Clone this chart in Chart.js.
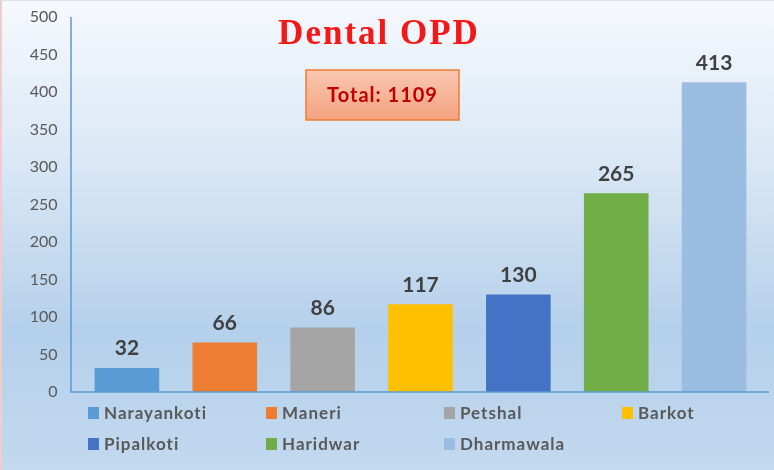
<!DOCTYPE html>
<html>
<head>
<meta charset="utf-8">
<script src="https://cdn.jsdelivr.net/npm/chart.js@4.4.1/dist/chart.umd.min.js"></script>
<style>
  html, body { margin: 0; padding: 0; background: #ffffff; }
  #wrap { position: relative; width: 774px; height: 470px; }
</style>
</head>
<body>
<div id="wrap"><canvas id="chart"></canvas></div>
<script>
const categories = ['Narayankoti', 'Maneri', 'Petshal', 'Barkot', 'Pipalkoti', 'Haridwar', 'Dharmawala'];
const opdCounts = [32, 66, 86, 117, 130, 265, 413];
const barColors = ['#5b9bd5', '#ed7d31', '#a5a5a5', '#ffc000', '#4472c4', '#70ad47', '#9bbde2'];
const yAxisMin = 0;
const yAxisMax = 500;
const yAxisStep = 50;
const chartTitle = 'Dental OPD';
const totalText = 'Total: ' + opdCounts.reduce((a, b) => a + b, 0);

const backgroundPlugin = {
  id: 'bg',
  beforeDraw(chart) {
    const ctx = chart.ctx, w = chart.width, h = chart.height;
    ctx.save();
    const g = ctx.createLinearGradient(0, 0, 0, h);
    g.addColorStop(0, '#f6f9fd');
    g.addColorStop(0.35, '#d9e7f5');
    g.addColorStop(0.7, '#b5d0eb');
    g.addColorStop(1, '#c2d9ef');
    ctx.fillStyle = g;
    ctx.fillRect(0, 0, w, h);
    ctx.fillStyle = '#f0cccc';
    ctx.fillRect(0, 0, 2, h);
    ctx.fillStyle = '#dfe3e8';
    ctx.fillRect(0, 0, w, 1);
    ctx.restore();
  }
};

const axisLinePlugin = {
  id: 'axisLines',
  afterDatasetsDraw(chart) {
    const ctx = chart.ctx, a = chart.chartArea;
    ctx.save();
    ctx.strokeStyle = '#5b9bd5';
    ctx.lineWidth = 1.5;
    ctx.beginPath();
    ctx.moveTo(a.left - 7, a.top);
    ctx.lineTo(a.left - 7, a.bottom);
    ctx.lineTo(a.right + 6, a.bottom);
    ctx.stroke();
    ctx.restore();
  }
};

const valueLabelPlugin = {
  id: 'valueLabels',
  afterDatasetsDraw(chart) {
    const ctx = chart.ctx;
    const meta = chart.getDatasetMeta(0);
    ctx.save();
    ctx.font = 'bold 21px Lato';
    ctx.fillStyle = '#404040';
    ctx.textAlign = 'center';
    ctx.textBaseline = 'bottom';
    meta.data.forEach((bar, i) => {
      ctx.fillText(String(opdCounts[i]), bar.x, bar.y - 9);
    });
    ctx.restore();
  }
};

const annotationPlugin = {
  id: 'annotations',
  afterDraw(chart) {
    const ctx = chart.ctx;
    ctx.save();
    // Title
    ctx.font = 'bold 35px "Liberation Serif"';
    ctx.letterSpacing = '2px';
    ctx.fillStyle = '#f41818';
    ctx.textAlign = 'center';
    ctx.textBaseline = 'alphabetic';
    ctx.fillText(chartTitle, 379, 44);
    // Total box
    const bx = 306, by = 70, bw = 153, bh = 50;
    const g = ctx.createLinearGradient(0, by, 0, by + bh);
    g.addColorStop(0, '#f9c8b1');
    g.addColorStop(1, '#f4a27f');
    ctx.fillStyle = g;
    ctx.fillRect(bx, by, bw, bh);
    ctx.strokeStyle = '#ed7d31';
    ctx.lineWidth = 1.5;
    ctx.strokeRect(bx, by, bw, bh);
    ctx.font = 'bold 20px Lato';
    ctx.letterSpacing = '1px';
    ctx.fillStyle = '#c00000';
    ctx.textAlign = 'center';
    ctx.textBaseline = 'middle';
    ctx.fillText(totalText, bx + bw / 2, by + bh / 2 + 1);
    // Legend
    const a = chart.chartArea;
    ctx.font = 'bold 17px Lato';
    ctx.letterSpacing = '1px';
    ctx.textAlign = 'left';
    ctx.textBaseline = 'middle';
    categories.forEach((name, i) => {
      const col = i % 4, row = Math.floor(i / 4);
      const x = a.left + 10 + col * 178;
      const y = a.bottom + 21 + row * 31;
      ctx.fillStyle = barColors[i];
      ctx.fillRect(x, y - 6, 11, 12);
      ctx.fillStyle = '#595959';
      ctx.fillText(name, x + 16, y + 1);
    });
    ctx.restore();
  }
};

new Chart(document.getElementById('chart'), {
  type: 'bar',
  data: {
    labels: categories,
    datasets: [{
      label: chartTitle,
      data: opdCounts,
      backgroundColor: barColors,
      borderWidth: 0,
      barPercentage: 0.66,
      categoryPercentage: 1.0
    }]
  },
  options: {
    responsive: true,
    maintainAspectRatio: false,
    animation: false,
    layout: { padding: { top: 17, right: 11, bottom: 78, left: 0 } },
    plugins: {
      legend: { display: false },
      tooltip: { enabled: false },
      title: { display: false }
    },
    scales: {
      x: { display: false },
      y: {
        min: yAxisMin,
        max: yAxisMax,
        ticks: {
          stepSize: yAxisStep,
          color: '#595959',
          font: { family: 'Lato', size: 16 },
          padding: 20.5
        },
        grid: { display: false, drawTicks: false },
        border: { display: false },
        afterFit(scale) {
          scale.width = 78;
          scale.paddingTop = 8;
          scale.paddingBottom = 8;
        }
      }
    }
  },
  plugins: [backgroundPlugin, axisLinePlugin, valueLabelPlugin, annotationPlugin]
});
</script>
</body>
</html>
